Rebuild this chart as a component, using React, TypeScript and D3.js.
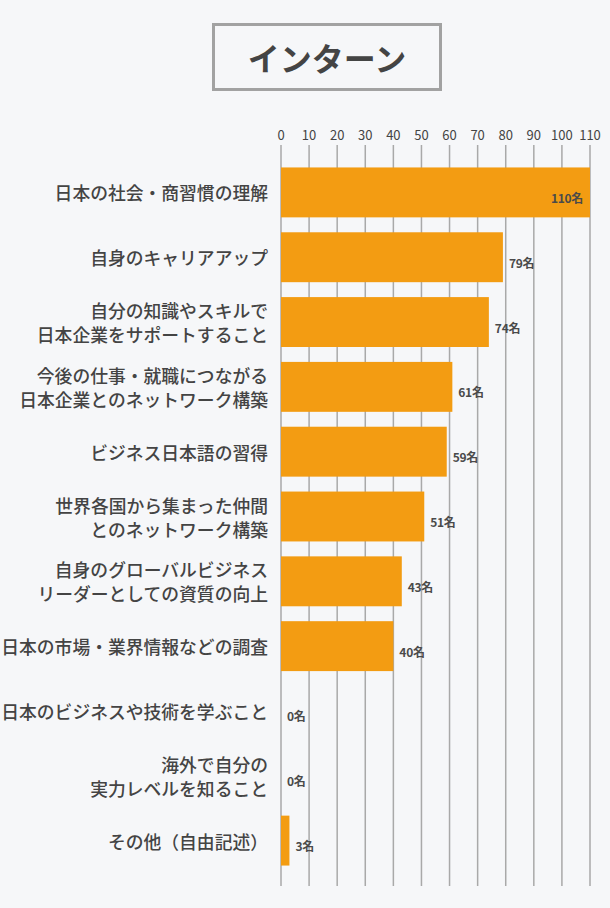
import React, { useEffect } from "react";
import * as d3 from "d3";

const categories: string[][] = [
  ["日本の社会・商習慣の理解"],
  ["自身のキャリアアップ"],
  ["自分の知識やスキルで", "日本企業をサポートすること"],
  ["今後の仕事・就職につながる", "日本企業とのネットワーク構築"],
  ["ビジネス日本語の習得"],
  ["世界各国から集まった仲間", "とのネットワーク構築"],
  ["自身のグローバルビジネス", "リーダーとしての資質の向上"],
  ["日本の市場・業界情報などの調査"],
  ["日本のビジネスや技術を学ぶこと"],
  ["海外で自分の", "実力レベルを知ること"],
  ["その他（自由記述）"],
];
const values: number[] = [110, 79, 74, 61, 59, 51, 43, 40, 0, 0, 3];
const ticks: number[] = [0, 10, 20, 30, 40, 50, 60, 70, 80, 90, 100, 110];
const title = "インターン";
const unit = "名";

const W = 610;
const H = 908;
const FONT = "'Noto Sans CJK JP', 'Noto Sans', sans-serif";
const BG = "#f6f7f9";
const BAR = "#f39c12";
const TEXT = "#444";

export default function App() {
  useEffect(() => {
    document.body.style.margin = "0";
    document.body.style.background = BG;
  }, []);

  const x = d3.scaleLinear().domain([0, 110]).range([281, 590]);
  const ids = categories.map((_, i) => String(i));
  const y = d3
    .scaleBand<string>()
    .domain(ids)
    .range([160, 873])
    .paddingInner(0.23)
    .paddingOuter(0.115);
  const gridTop = 145;
  const gridBottom = 886;

  return (
    <svg width={W} height={H} style={{ display: "block", background: BG }} fontFamily={FONT}>
      <rect x={0} y={0} width={W} height={H} fill={BG} />
      {/* title box */}
      <rect x={213.5} y={24.5} width={227} height={65} fill={BG} stroke="#a2a2a2" strokeWidth={3} />
      <text x={327} y={57} textAnchor="middle" dominantBaseline="central" fontSize={32} fontWeight={700} fill={TEXT}>
        {title}
      </text>
      {/* grid */}
      {ticks.map((t) => (
        <g key={t}>
          <line x1={x(t)} x2={x(t)} y1={gridTop} y2={gridBottom} stroke="#a9a9a9" strokeWidth={1.5} />
          <text x={x(t)} y={134} textAnchor="middle" dominantBaseline="central" fontSize={13} fill={TEXT}>
            {t}
          </text>
        </g>
      ))}
      {/* bars */}
      {values.map((v, i) => {
        const by = y(String(i))!;
        const bh = y.bandwidth();
        const cy = by + bh / 2;
        const inside = v >= 100;
        return (
          <g key={i}>
            {v > 0 && <rect x={x(0)} y={by} width={x(v) - x(0)} height={bh} fill={BAR} />}
            <text
              x={inside ? x(v) - 7 : x(v) + 6}
              y={cy + 5}
              textAnchor={inside ? "end" : "start"}
              dominantBaseline="central"
              fontSize={12}
              fontWeight={700}
              fill="#4a4a4a"
              letterSpacing={-0.3}
            >
              {v}
              {unit}
            </text>
            {categories[i].map((line, j) => {
              const n = categories[i].length;
              const ly = cy + (j - (n - 1) / 2) * 24;
              return (
                <text
                  key={j}
                  x={268}
                  y={ly}
                  textAnchor="end"
                  dominantBaseline="central"
                  fontSize={17.8}
                  fontWeight={500}
                  fill={TEXT}
                >
                  {line}
                </text>
              );
            })}
          </g>
        );
      })}
    </svg>
  );
}
